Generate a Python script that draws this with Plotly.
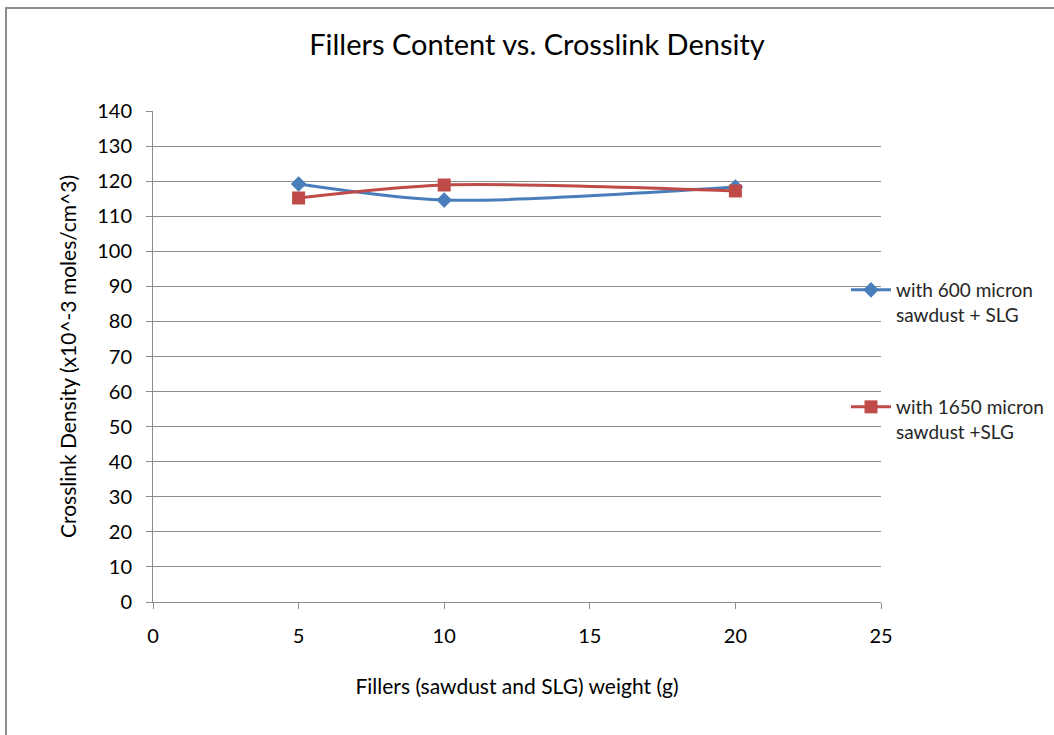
import plotly.graph_objects as go

# Filler weight (g) and measured crosslink density (x10^-3 moles/cm^3)
filler_weight = [5, 10, 20]
density_600 = [119.2, 114.6, 118.3]
density_1650 = [115.2, 118.9, 117.2]

x_ticks = [0, 5, 10, 15, 20, 25]
y_ticks = list(range(0, 141, 10))

FONT = "Lato, 'Open Sans', sans-serif"
GRID = "#8c8c8c"

fig = go.Figure()
fig.add_trace(go.Scatter(
    x=filler_weight, y=density_600, mode="lines+markers",
    name="with 600 micron<br>sawdust + SLG",
    line=dict(color="#4a7ebb", width=3, shape="spline", smoothing=0.8),
    marker=dict(symbol="diamond", size=12, color="#4a7ebb"),
    legend="legend",
))
fig.add_trace(go.Scatter(
    x=filler_weight, y=density_1650, mode="lines+markers",
    name="with 1650 micron<br>sawdust +SLG",
    line=dict(color="#be4b48", width=3, shape="spline", smoothing=0.8),
    marker=dict(symbol="square", size=13, color="#be4b48"),
    legend="legend2",
))

L, R, T, B = 153, 881, 111, 602
W, H = 1054, 735
pw, ph = R - L, B - T

def px(xp):
    return (xp - L) / pw

def py(yp):
    return (B - yp) / ph

legend_style = dict(
    font=dict(family=FONT, size=19, color="#262626"),
    bgcolor="rgba(0,0,0,0)", xanchor="left", yanchor="top",
    valign="top", itemwidth=40,
)

fig.update_layout(
    width=W, height=H,
    margin=dict(l=L, r=W - R, t=T, b=H - B, autoexpand=False),
    paper_bgcolor="white", plot_bgcolor="white",
    font=dict(family=FONT, color="#000000"),
    title=dict(text="Fillers Content vs. Crosslink Density",
               x=537 / W, xref="container", xanchor="center",
               y=1 - 45 / H, yref="container", yanchor="middle",
               font=dict(family=FONT, size=29, color="#000000")),
    xaxis=dict(range=[0, 25], tickvals=x_ticks, showgrid=False, zeroline=False,
               showline=True, linecolor=GRID, linewidth=1,
               ticks="outside", ticklen=6, tickcolor=GRID, ticklabelstandoff=10,
               tickfont=dict(family=FONT, size=20, color="#000000"),
               title=dict(text="Fillers (sawdust and SLG) weight (g)",
                          font=dict(family=FONT, size=21), standoff=33)),
    yaxis=dict(range=[0, 140], tickvals=y_ticks, showgrid=True, gridcolor=GRID,
               gridwidth=1, zeroline=False, showline=True, linecolor=GRID,
               linewidth=1, ticks="outside", ticklen=6, tickcolor=GRID,
               ticklabelstandoff=10,
               tickfont=dict(family=FONT, size=20, color="#000000"),
               title=dict(text="Crosslink Density (x10^-3 moles/cm^3)",
                          font=dict(family=FONT, size=21), standoff=14)),
    legend=dict(x=px(846), y=py(271), **legend_style),
    legend2=dict(x=px(846), y=py(388), **legend_style),
    showlegend=True,
    shapes=[dict(type="rect", xref="paper", yref="paper",
                 x0=px(6), x1=px(1062), y0=py(745), y1=py(8),
                 line=dict(color="#8c8c8c", width=2), fillcolor="rgba(0,0,0,0)",
                 layer="below")],
)

fig.write_html("out.html")
